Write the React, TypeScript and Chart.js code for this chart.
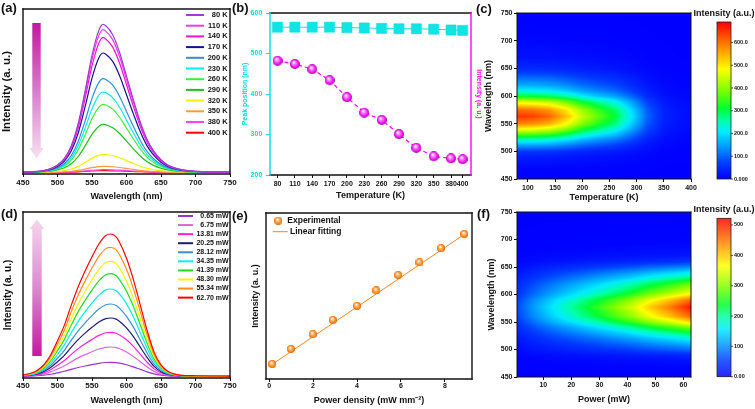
import React, { useEffect, useRef } from "react";
import { Chart, registerables } from "chart.js";
Chart.register(...registerables);

const FF = "'Liberation Sans', Arial, Helvetica, sans-serif";

// ---------- (a) temperature-dependent spectra ----------
const wavelengthsA = [450, 460, 470, 480, 490, 500, 510, 520, 530, 540, 550, 560, 566, 570, 580, 590, 600, 610, 620, 630, 640, 650, 660, 670, 680, 690, 700, 720, 750];
const shapeA = [0.002, 0.004, 0.006, 0.012, 0.025, 0.05, 0.095, 0.18, 0.33, 0.55, 0.79, 0.96, 1.0, 0.99, 0.93, 0.81, 0.65, 0.49, 0.34, 0.22, 0.14, 0.085, 0.05, 0.03, 0.018, 0.011, 0.007, 0.003, 0.001];
const temperatures = [80, 110, 140, 170, 200, 230, 260, 290, 320, 350, 380, 400];
const tempLabels = ["80 K", "110 K", "140 K", "170 K", "200 K", "230 K", "260 K", "290 K", "320 K", "350 K", "380 K", "400 K"];
const peakA = [444, 428, 404, 358, 281, 241, 204, 144, 54, 18, 8, 5];
const colorsA = ["#a03cd2", "#e83ce8", "#ff10d0", "#12128c", "#2f8fd6", "#00f0f0", "#3cf03c", "#1fbf1f", "#f2f200", "#ff9a3c", "#ff44ff", "#ff0000"];
const xTicksA = [450, 500, 550, 600, 650, 700, 750];

// ---------- (b) peak position & intensity vs temperature ----------
const peakPosition = [565, 565, 565, 565, 564, 563, 562, 561, 561, 560, 558, 557];
const intensityB = [482, 474, 461, 434, 392, 354, 336, 301, 267, 246, 241, 239];

// ---------- (c) temperature heat map ----------
const heatAmpC = [650, 640, 610, 540, 440, 370, 310, 210, 100, 40, 20, 15];
const heatWlC = [450, 470, 490, 500, 510, 520, 530, 540, 550, 563, 575, 590, 600, 610, 620, 630, 640, 650, 670, 700, 750];
const heatProfC = [0.0, 0.01, 0.05, 0.1, 0.22, 0.36, 0.55, 0.74, 0.9, 1.0, 0.93, 0.7, 0.47, 0.33, 0.24, 0.18, 0.12, 0.07, 0.03, 0.01, 0.0];
const xTicksC = [100, 150, 200, 250, 300, 350, 400];
const cbMaxC = 690;
const cbTicksC = [0, 100, 200, 300, 400, 500, 600];
const cbLabelsC = ["0.000", "100.0", "200.0", "300.0", "400.0", "500.0", "600.0"];

// ---------- (d) power-dependent spectra ----------
const wavelengthsD = [450, 460, 470, 480, 490, 500, 510, 520, 530, 540, 550, 560, 570, 577, 585, 590, 600, 610, 620, 630, 640, 650, 660, 670, 680, 700, 750];
const shapeD = [0.01, 0.02, 0.04, 0.08, 0.15, 0.25, 0.36, 0.5, 0.63, 0.74, 0.84, 0.93, 0.99, 1.0, 0.98, 0.94, 0.83, 0.68, 0.5, 0.32, 0.17, 0.08, 0.035, 0.015, 0.007, 0.004, 0.002];
const powers = [0.65, 6.75, 13.81, 20.25, 28.12, 34.35, 41.39, 48.3, 55.34, 62.7];
const powerLabels = ["0.65 mW", "6.75 mW", "13.81 mW", "20.25 mW", "28.12 mW", "34.35 mW", "41.39 mW", "48.30 mW", "55.34 mW", "62.70 mW"];
const peakD = [42, 88, 132, 175, 217, 262, 308, 345, 387, 427];
const colorsD = ["#9933cc", "#dd66dd", "#ff22dd", "#1c1c70", "#3a8fd0", "#00f0f0", "#22dd22", "#f5f500", "#ff8c1a", "#ff0000"];

// ---------- (e) intensity vs power density ----------
const densityE = [0.14, 0.99, 1.99, 2.9, 4.0, 4.88, 5.87, 6.84, 7.82, 8.88];
const intensityE = [45, 90, 134, 177, 219, 265, 311, 349, 392, 434];
const fitX = [0.14, 8.88];
const fitY = [44, 433];
const xTicksE = [0, 2, 4, 6, 8];

// ---------- (f) power heat map ----------
const heatAmpF = [60, 110, 160, 200, 250, 290, 340, 400, 450, 510];
const heatWlF = [450, 470, 480, 490, 500, 510, 520, 530, 540, 550, 560, 577, 590, 600, 610, 620, 630, 640, 650, 660, 670, 690, 750];
const heatProfF = [0.0, 0.01, 0.03, 0.07, 0.16, 0.24, 0.33, 0.45, 0.58, 0.76, 0.9, 1.0, 0.9, 0.74, 0.64, 0.55, 0.42, 0.31, 0.19, 0.09, 0.04, 0.01, 0.0];
const xTicksF = [10, 20, 30, 40, 50, 60];
const cbMaxF = 522;
const cbTicksF = [0, 100, 200, 300, 400, 500];
const cbLabelsF = ["0.00", "100", "200", "300", "400", "500"];

// ---------- helpers ----------
const cmapStops = [
  [0.0, 0, 0, 255],
  [0.1, 0, 60, 255],
  [0.2, 0, 150, 255],
  [0.3, 0, 235, 255],
  [0.37, 0, 255, 170],
  [0.45, 0, 255, 50],
  [0.56, 120, 255, 0],
  [0.7, 255, 255, 0],
  [0.85, 255, 130, 0],
  [1.0, 255, 0, 0],
];
function cmap(f: number) {
  if (f <= 0) return [0, 0, 255];
  if (f >= 1) return [255, 0, 0];
  for (let i = 1; i < cmapStops.length; i++) {
    const a = cmapStops[i - 1], b = cmapStops[i];
    if (f <= b[0]) {
      const t = (f - a[0]) / (b[0] - a[0]);
      return [a[1] + (b[1] - a[1]) * t, a[2] + (b[2] - a[2]) * t, a[3] + (b[3] - a[3]) * t];
    }
  }
  return [255, 0, 0];
}
function interp(xs: number[], ys: number[], x: number) {
  if (x <= xs[0]) return ys[0];
  if (x >= xs[xs.length - 1]) return ys[ys.length - 1];
  for (let i = 1; i < xs.length; i++) {
    if (x <= xs[i]) {
      const t = (x - xs[i - 1]) / (xs[i] - xs[i - 1]);
      return ys[i - 1] + (ys[i] - ys[i - 1]) * t;
    }
  }
  return ys[ys.length - 1];
}
function sphere(d: number, light: string, mid: string, dark: string) {
  const c = document.createElement("canvas");
  c.width = d; c.height = d;
  const g = c.getContext("2d")!;
  const grad = g.createRadialGradient(d * 0.38, d * 0.32, d * 0.04, d / 2, d / 2, d / 2);
  grad.addColorStop(0, "#ffffff");
  grad.addColorStop(0.3, light);
  grad.addColorStop(0.75, mid);
  grad.addColorStop(1, dark);
  g.fillStyle = grad;
  g.beginPath(); g.arc(d / 2, d / 2, d / 2, 0, Math.PI * 2); g.fill();
  return c;
}
const font = (size: number) => ({ family: FF, size, weight: "bold" as const });
const fixW = (w: number) => (s: any) => { s.width = w; };
const fixH = (h: number) => (s: any) => { s.height = h; };
const setTicks = (arr: number[]) => (s: any) => { s.ticks = arr.map((v) => ({ value: v })); };

function framePlugin(c: { top: string; right: string; bottom: string; left: string }, lw: number) {
  return {
    id: "frame",
    afterDraw(chart: any) {
      const { ctx, chartArea: a } = chart;
      ctx.save();
      ctx.lineWidth = lw;
      ctx.lineCap = "square";
      const seg = (col: string, x1: number, y1: number, x2: number, y2: number) => {
        ctx.strokeStyle = col; ctx.beginPath(); ctx.moveTo(x1, y1); ctx.lineTo(x2, y2); ctx.stroke();
      };
      seg(c.top, a.left, a.top, a.right, a.top);
      seg(c.bottom, a.left, a.bottom, a.right, a.bottom);
      seg(c.left, a.left, a.top, a.left, a.bottom);
      seg(c.right, a.right, a.top, a.right, a.bottom);
      ctx.restore();
    },
  };
}
const black = { top: "#111", right: "#111", bottom: "#111", left: "#111" };

function heatPlugin(xs: number[], amps: number[], wls: number[], prof: number[], vmax: number) {
  return {
    id: "heat",
    beforeDatasetsDraw(chart: any) {
      const { ctx, chartArea: a, scales } = chart;
      const W = a.right - a.left, H = a.bottom - a.top;
      const w = Math.round(W), h = Math.round(H);
      const off = document.createElement("canvas");
      off.width = w; off.height = h;
      const o = off.getContext("2d")!;
      const img = o.createImageData(w, h);
      const col: number[] = [];
      for (let j = 0; j < h; j++) col.push(interp(wls, prof, scales.y.getValueForPixel(a.top + ((j + 0.5) * H) / h)));
      for (let i = 0; i < w; i++) {
        const amp = interp(xs, amps, scales.x.getValueForPixel(a.left + ((i + 0.5) * W) / w));
        for (let j = 0; j < h; j++) {
          const c = cmap((amp * col[j]) / vmax);
          const k = (j * w + i) * 4;
          img.data[k] = c[0]; img.data[k + 1] = c[1]; img.data[k + 2] = c[2]; img.data[k + 3] = 255;
        }
      }
      o.putImageData(img, 0, 0);
      ctx.drawImage(off, a.left, a.top, W, H);
    },
  };
}

function colorbarPlugin(x: number, w: number, y0: number, y1: number, vmax: number, ticks: number[], labels: string[], titleY: number) {
  return {
    id: "cbar",
    afterDraw(chart: any) {
      const ctx = chart.ctx;
      const h = y1 - y0;
      ctx.save();
      const n = Math.ceil(h);
      for (let j = 0; j < n; j++) {
        const c = cmap(1 - (j + 0.5) / h);
        ctx.fillStyle = `rgb(${Math.round(c[0])},${Math.round(c[1])},${Math.round(c[2])})`;
        ctx.fillRect(x, y0 + j, w, Math.min(1.2, y1 - (y0 + j)));
      }
      ctx.strokeStyle = "#222"; ctx.lineWidth = 0.8;
      ctx.strokeRect(x, y0, w, h);
      ctx.font = `bold 5.5px ${FF}`;
      ctx.fillStyle = "#111"; ctx.textAlign = "left"; ctx.textBaseline = "middle";
      ticks.forEach((v, i) => {
        const y = y1 - (v / vmax) * h;
        ctx.beginPath(); ctx.moveTo(x + w, y); ctx.lineTo(x + w + 2, y); ctx.stroke();
        ctx.fillText(labels[i], x + w + 3, y);
      });
      ctx.font = `bold 9px ${FF}`;
      ctx.textAlign = "center";
      ctx.fillText("Intensity (a.u.)", x + w / 2, titleY);
      ctx.restore();
    },
  };
}

const baseOpts = {
  animation: false as const,
  responsive: false,
  devicePixelRatio: 1,
  events: [] as any[],
};

function xAxis(min: number, max: number, ticks: number[], height: number, size: number, pad: number, title: string, titleSize: number, titlePad: number) {
  return {
    type: "linear" as const, position: "bottom" as const, min, max,
    afterBuildTicks: setTicks(ticks),
    afterFit: fixH(height),
    ticks: { font: font(size), color: "#111", padding: pad, maxRotation: 0, minRotation: 0, autoSkip: false },
    grid: { drawOnChartArea: false, tickLength: 3, color: "#111", lineWidth: 1 },
    border: { display: false },
    title: { display: true, text: title, font: font(titleSize), color: "#111", padding: { top: 0, bottom: titlePad } },
  };
}

// ---------- chart configs ----------
function configA(): any {
  const arrow = {
    id: "arrowA",
    beforeDatasetsDraw(chart: any) {
      const ctx = chart.ctx;
      ctx.save();
      const g = ctx.createLinearGradient(0, 23, 0, 158);
      g.addColorStop(0, "#c4189e"); g.addColorStop(0.5, "#d77ccb"); g.addColorStop(1, "#f7dff0");
      ctx.fillStyle = g;
      ctx.beginPath();
      ctx.moveTo(32.3, 23); ctx.lineTo(40.7, 23); ctx.lineTo(40.7, 148); ctx.lineTo(43.5, 148);
      ctx.lineTo(36.5, 158.5); ctx.lineTo(29.5, 148); ctx.lineTo(32.3, 148); ctx.closePath(); ctx.fill();
      ctx.restore();
    },
  };
  const legend = {
    id: "legA",
    afterDraw(chart: any) {
      const ctx = chart.ctx;
      ctx.save();
      ctx.font = `bold 7.5px ${FF}`; ctx.textAlign = "right"; ctx.textBaseline = "middle";
      tempLabels.forEach((lab, i) => {
        const y = 15 + i * 10.7;
        ctx.strokeStyle = colorsA[i]; ctx.lineWidth = 2;
        ctx.beginPath(); ctx.moveTo(186, y); ctx.lineTo(204, y); ctx.stroke();
        ctx.fillStyle = "#111"; ctx.fillText(lab, 227.7, y);
      });
      ctx.restore();
    },
  };
  return {
    type: "line",
    data: {
      datasets: temperatures.map((t, k) => ({
        label: tempLabels[k],
        data: wavelengthsA.map((w, i) => ({ x: w, y: shapeA[i] * peakA[k] })),
        borderColor: colorsA[k], borderWidth: 1.2, pointRadius: 0, cubicInterpolationMode: "monotone", fill: false,
      })),
    },
    options: {
      ...baseOpts,
      layout: { padding: { left: 0, top: 9, right: 10, bottom: 0 } },
      plugins: { legend: { display: false }, tooltip: { enabled: false } },
      scales: {
        x: xAxis(450, 750, xTicksA, 32, 8, 1, "Wavelength (nm)", 9, 3.6),
        y: {
          min: -5, max: 490, afterFit: fixW(23),
          ticks: { display: false }, grid: { display: false }, border: { display: false },
          title: { display: true, text: "Intensity (a. u.)", font: font(11.5), color: "#111", padding: { top: 0, bottom: 0 } },
        },
      },
    },
    plugins: [arrow, legend, framePlugin(black, 1.4)],
  };
}

function configB(): any {
  const mag = sphere(10, "#ff80ff", "#ee10ee", "#a000a0");
  return {
    type: "line",
    data: {
      datasets: [
        {
          data: temperatures.map((t, i) => ({ x: t, y: peakPosition[i] })), yAxisID: "y",
          borderColor: "#10e0e0", borderWidth: 1, backgroundColor: "#10e4e4", pointBorderColor: "#10d8d8",
          pointStyle: "rect", pointRadius: 7.2, pointBorderWidth: 0.5,
        },
        {
          data: temperatures.map((t, i) => ({ x: t, y: intensityB[i] })), yAxisID: "y1",
          borderColor: "#ff00ff", borderWidth: 1.2, borderDash: [4, 3], pointStyle: mag,
        },
      ],
    },
    options: {
      ...baseOpts,
      layout: { padding: { left: 0, top: 13, right: 0, bottom: 0 } },
      plugins: { legend: { display: false }, tooltip: { enabled: false } },
      scales: {
        x: xAxis(67, 414.5, temperatures, 31, 7, 2, "Temperature (K)", 9, 4.6),
        y: {
          position: "left", min: 200, max: 600, afterFit: fixW(32),
          ticks: { stepSize: 100, font: font(7), color: "#00dede", padding: 3.7 },
          grid: { drawOnChartArea: false, tickLength: 4, color: "#00dede" }, border: { display: false },
          title: { display: true, text: "Peak position (nm)", font: font(7), color: "#00dede", padding: { top: 3.3, bottom: 0 } },
        },
        y1: {
          position: "right", min: 200, max: 600, afterFit: fixW(16),
          ticks: { display: false }, grid: { display: false }, border: { display: false },
          title: { display: true, text: "Intensity (a. u.)", font: font(7), color: "#ff10ff", padding: { top: 3.6, bottom: 0 } },
        },
      },
    },
    plugins: [framePlugin({ top: "#111", bottom: "#111", left: "#00e0e0", right: "#ff00ff" }, 1.4)],
  };
}

function heatConfig(xmin: number, xmax: number, xticks: number[], xTitle: string, xTitlePad: number, xH: number, xPad: number, yTitlePad: number, padTop: number, heat: any, cbar: any): any {
  return {
    type: "scatter",
    data: { datasets: [{ data: [] }] },
    options: {
      ...baseOpts,
      layout: { padding: { left: 0, top: padTop, right: 64, bottom: 0 } },
      plugins: { legend: { display: false }, tooltip: { enabled: false } },
      scales: {
        x: xAxis(xmin, xmax, xticks, xH, 7, xPad, xTitle, 9, xTitlePad),
        y: {
          min: 450, max: 750, afterFit: fixW(36),
          ticks: { stepSize: 50, font: font(7), color: "#111", padding: 1.5 },
          grid: { drawOnChartArea: false, tickLength: 3, color: "#111" }, border: { display: false },
          title: { display: true, text: "Wavelength (nm)", font: font(9), color: "#111", padding: { top: yTitlePad, bottom: 0 } },
        },
      },
    },
    plugins: [heat, framePlugin(black, 1), cbar],
  };
}

function configC(): any {
  return heatConfig(80, 400, xTicksC, "Temperature (K)", 2.6, 27, 2, 2, 13,
    heatPlugin(temperatures, heatAmpC, heatWlC, heatProfC, cbMaxC),
    colorbarPlugin(236, 14, 22, 179, cbMaxC, cbTicksC, cbLabelsC, 14));
}

function configF(): any {
  return heatConfig(0.6, 62.7, xTicksF, "Power (mW)", 3.6, 32, 1.2, 5.6, 12,
    heatPlugin(powers, heatAmpF, heatWlF, heatProfF, cbMaxF),
    colorbarPlugin(236, 14, 18.3, 176.7, cbMaxF, cbTicksF, cbLabelsF, 10));
}

function configD(): any {
  const arrow = {
    id: "arrowD",
    beforeDatasetsDraw(chart: any) {
      const ctx = chart.ctx;
      ctx.save();
      const g = ctx.createLinearGradient(0, 19, 0, 156);
      g.addColorStop(0, "#f6d6ee"); g.addColorStop(0.5, "#dc8ad0"); g.addColorStop(1, "#c21a9f");
      ctx.fillStyle = g;
      ctx.beginPath();
      ctx.moveTo(37, 19.3); ctx.lineTo(44.3, 29); ctx.lineTo(41.7, 29); ctx.lineTo(41.7, 156);
      ctx.lineTo(32.3, 156); ctx.lineTo(32.3, 29); ctx.lineTo(29.7, 29); ctx.closePath(); ctx.fill();
      ctx.restore();
    },
  };
  const legend = {
    id: "legD",
    afterDraw(chart: any) {
      const ctx = chart.ctx;
      ctx.save();
      ctx.font = `bold 7px ${FF}`; ctx.textAlign = "right"; ctx.textBaseline = "middle";
      powerLabels.forEach((lab, i) => {
        const y = 16 + i * 9.07;
        ctx.strokeStyle = colorsD[i]; ctx.lineWidth = 2;
        ctx.beginPath(); ctx.moveTo(178, y); ctx.lineTo(193, y); ctx.stroke();
        ctx.fillStyle = "#111"; ctx.fillText(lab, 228.7, y);
      });
      ctx.restore();
    },
  };
  return {
    type: "line",
    data: {
      datasets: powers.map((p, k) => ({
        label: powerLabels[k],
        data: wavelengthsD.map((w, i) => ({ x: w, y: shapeD[i] * peakD[k] })),
        borderColor: colorsD[k], borderWidth: 1.2, pointRadius: 0, cubicInterpolationMode: "monotone", fill: false,
      })).reverse(),
    },
    options: {
      ...baseOpts,
      layout: { padding: { left: 0, top: 12, right: 10, bottom: 0 } },
      plugins: { legend: { display: false }, tooltip: { enabled: false } },
      scales: {
        x: xAxis(450, 750, xTicksA, 31, 8, 0, "Wavelength (nm)", 9, 2.6),
        y: {
          min: -5, max: 493, afterFit: fixW(23),
          ticks: { display: false }, grid: { display: false }, border: { display: false },
          title: { display: true, text: "Intensity (a. u.)", font: font(10), color: "#111", padding: { top: 2.5, bottom: 0 } },
        },
      },
    },
    plugins: [arrow, legend, framePlugin(black, 1.4)],
  };
}

function configE(): any {
  const ball = sphere(8, "#ffc080", "#ff8a1c", "#d86000");
  const legend = {
    id: "legE",
    afterDraw(chart: any) {
      const ctx = chart.ctx;
      ctx.save();
      ctx.drawImage(ball, 34.3 - 4, 20.7 - 4);
      ctx.strokeStyle = "#f0861e"; ctx.lineWidth = 1;
      ctx.beginPath(); ctx.moveTo(28.7, 31.7); ctx.lineTo(43.7, 31.7); ctx.stroke();
      ctx.font = `bold 8.5px ${FF}`; ctx.fillStyle = "#111"; ctx.textAlign = "left"; ctx.textBaseline = "middle";
      ctx.fillText("Experimental", 43.3, 20.7);
      ctx.fillText("Linear fitting", 46, 31.7);
      ctx.restore();
    },
  };
  return {
    type: "scatter",
    data: {
      datasets: [
        { type: "scatter", data: densityE.map((x, i) => ({ x, y: intensityE[i] })), pointStyle: ball, showLine: false },
        { type: "line", data: fitX.map((x, i) => ({ x, y: fitY[i] })), borderColor: "#f0861e", borderWidth: 1, pointRadius: 0, fill: false },
      ],
    },
    options: {
      ...baseOpts,
      layout: { padding: { left: 0, top: 13, right: 15, bottom: 0 } },
      plugins: { legend: { display: false }, tooltip: { enabled: false } },
      scales: {
        x: xAxis(-0.14, 9.23, xTicksE, 30, 7, 0, "Power density (mW mm\u207B\u00B2)", 9, 2.6),
        y: {
          min: 0, max: 497, afterFit: fixW(22),
          ticks: { display: false }, grid: { display: false }, border: { display: false },
          title: { display: true, text: "Intensity (a. u.)", font: font(9), color: "#111", padding: { top: 6.3, bottom: 0 } },
        },
      },
    },
    plugins: [legend, framePlugin(black, 1.4)],
  };
}

function Panel(props: { left: number; top: number; width: number; height: number; make: () => any }) {
  const ref = useRef<HTMLCanvasElement>(null);
  useEffect(() => {
    const chart = new Chart(ref.current as HTMLCanvasElement, props.make());
    return () => chart.destroy();
  }, []);
  return (
    <canvas
      ref={ref}
      width={props.width}
      height={props.height}
      style={{ position: "absolute", left: props.left, top: props.top, width: props.width, height: props.height }}
    />
  );
}

const panelLabels = [
  { t: "(a)", l: 1, tp: 1 },
  { t: "(b)", l: 232, tp: 1 },
  { t: "(c)", l: 476, tp: 2 },
  { t: "(d)", l: 1, tp: 207 },
  { t: "(e)", l: 232, tp: 209 },
  { t: "(f)", l: 477, tp: 207 },
];

export default function App() {
  return (
    <div style={{ position: "absolute", left: 0, top: 0, width: 755, height: 409, background: "#fff", overflow: "hidden", fontFamily: FF }}>
      <Panel left={0} top={0} width={240} height={206} make={configA} />
      <Panel left={238} top={0} width={249} height={206} make={configB} />
      <Panel left={481} top={0} width={274} height={206} make={configC} />
      <Panel left={0} top={200} width={240} height={209} make={configD} />
      <Panel left={244} top={200} width={243} height={209} make={configE} />
      <Panel left={481} top={200} width={274} height={209} make={configF} />
      {panelLabels.map((p) => (
        <div key={p.t} style={{ position: "absolute", left: p.l, top: p.tp, font: `bold 13px ${FF}`, lineHeight: "13px", color: "#111" }}>
          {p.t}
        </div>
      ))}
    </div>
  );
}
